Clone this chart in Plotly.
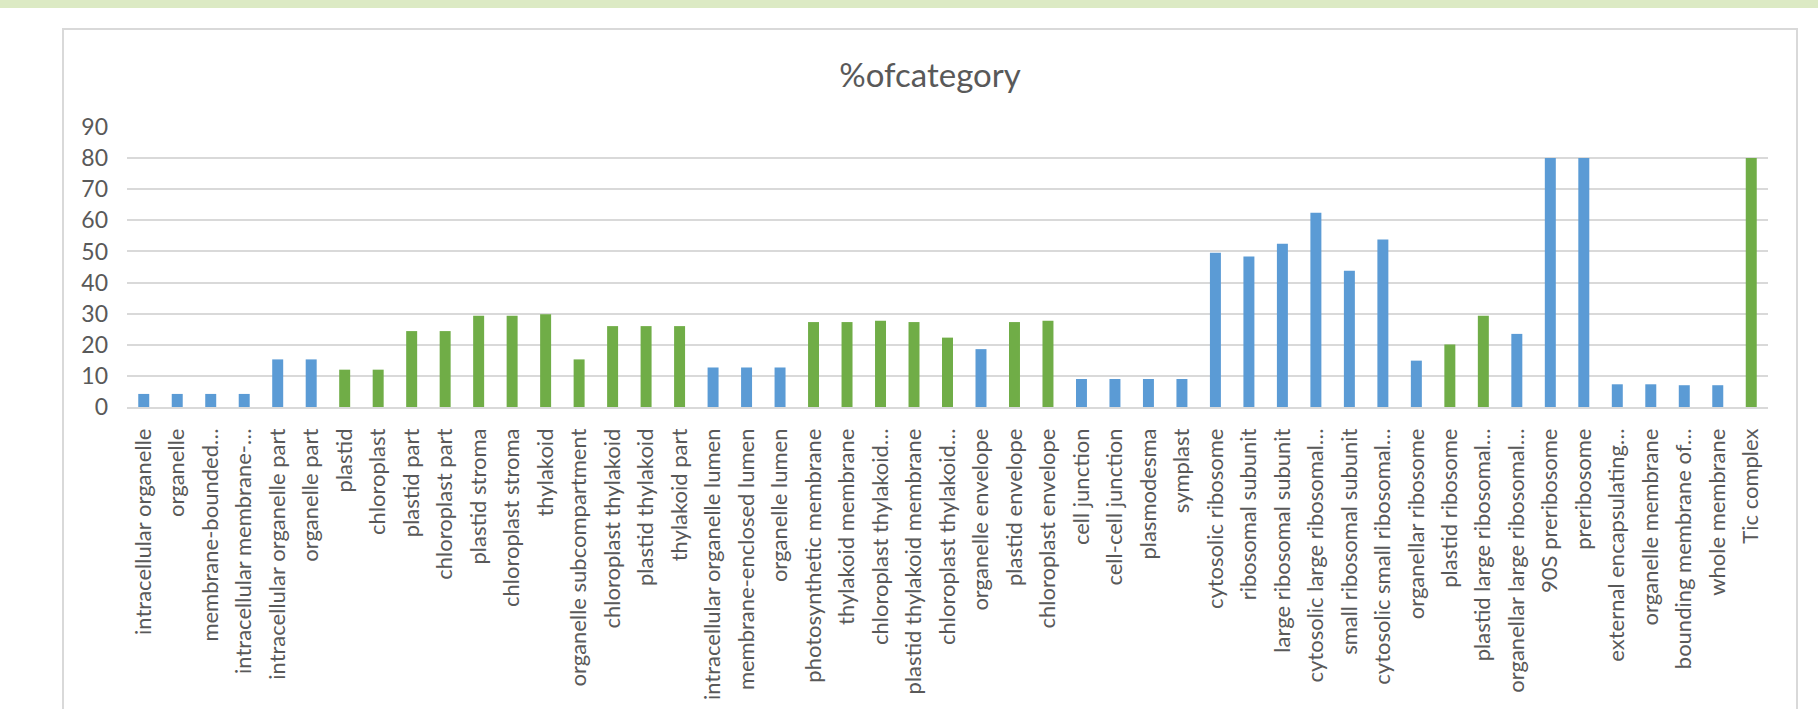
import plotly.graph_objects as go

# Cellular component categories and their share (%)
categories = [
    "intracellular organelle", "organelle", "membrane-bounded…", "intracellular membrane-…",
    "intracellular organelle part", "organelle part", "plastid", "chloroplast",
    "plastid part", "chloroplast part", "plastid stroma", "chloroplast stroma",
    "thylakoid", "organelle subcompartment", "chloroplast thylakoid", "plastid thylakoid",
    "thylakoid part", "intracellular organelle lumen", "membrane-enclosed lumen", "organelle lumen",
    "photosynthetic membrane", "thylakoid membrane", "chloroplast thylakoid…", "plastid thylakoid membrane",
    "chloroplast thylakoid…", "organelle envelope", "plastid envelope", "chloroplast envelope",
    "cell junction", "cell-cell junction", "plasmodesma", "symplast",
    "cytosolic ribosome", "ribosomal subunit", "large ribosomal subunit", "cytosolic large ribosomal…",
    "small ribosomal subunit", "cytosolic small ribosomal…", "organellar ribosome", "plastid ribosome",
    "plastid large ribosomal…", "organellar large ribosomal…", "90S preribosome", "preribosome",
    "external encapsulating…", "organelle membrane", "bounding membrane of…", "whole membrane",
    "Tic complex",
]

pct_of_category = [
    4.2, 4.2, 4.2, 4.2,
    15.3, 15.3, 12.0, 12.0,
    24.4, 24.4, 29.3, 29.3,
    29.8, 15.3, 26.0, 26.0,
    26.0, 12.7, 12.7, 12.7,
    27.3, 27.3, 27.7, 27.3,
    22.3, 18.6, 27.3, 27.7,
    9.0, 9.0, 9.0, 9.0,
    49.6, 48.4, 52.5, 62.4,
    43.8, 53.8, 14.9, 20.1,
    29.3, 23.5, 80.0, 80.0,
    7.3, 7.3, 7.0, 7.0,
    80.0,
]

# "P" = plastid-related category, "O" = other
group = [
    "O", "O", "O", "O", "O", "O", "P", "P", "P", "P", "P", "P", "P", "P", "P", "P", "P",
    "O", "O", "O", "P", "P", "P", "P", "P", "O", "P", "P",
    "O", "O", "O", "O", "O", "O", "O", "O", "O", "O", "O", "P", "P", "O", "O", "O",
    "O", "O", "O", "O", "P",
]

y_ticks = [0, 10, 20, 30, 40, 50, 60, 70, 80, 90]

palette = {"O": "#5B9BD5", "P": "#70AD47"}
bar_colors = [palette[g] for g in group]

TEXT = "#595959"
GRID = "#D9D9D9"
FONT = "Lato"

fig = go.Figure(
    go.Bar(
        x=list(range(len(categories))),
        y=pct_of_category,
        marker=dict(color=bar_colors, line=dict(width=0)),
        hoverinfo="skip",
    )
)

W, H = 1818, 709
ml, mr, mt, mb = 127, 50, 127, 302

fig.update_layout(
    width=W,
    height=H,
    margin=dict(l=ml, r=mr, t=mt, b=mb, autoexpand=False),
    paper_bgcolor="white",
    plot_bgcolor="white",
    bargap=0.672,
    showlegend=False,
    font=dict(family=FONT, color=TEXT),
    title=dict(
        text="%ofcategory",
        font=dict(family=FONT, size=33, color=TEXT),
        xref="container", x=930 / W, xanchor="center",
        yref="container", y=1 - 75 / H, yanchor="middle",
    ),
)

fig.update_xaxes(
    tickmode="array",
    tickvals=list(range(len(categories))),
    ticktext=categories,
    tickangle=-90,
    tickfont=dict(family=FONT, size=22, color=TEXT),
    range=[-0.5, len(categories) - 0.5],
    showline=True, linecolor=GRID, linewidth=1.5,
    showgrid=False, zeroline=False,
    ticks="", ticklabelstandoff=11,
    automargin=False, fixedrange=True,
)

fig.update_yaxes(
    range=[0, 90],
    tickmode="array",
    tickvals=y_ticks,
    tickfont=dict(family=FONT, size=23, color=TEXT),
    showgrid=True, gridcolor=GRID, gridwidth=1.5,
    zeroline=False, showline=False,
    ticks="", ticklabelstandoff=18,
    automargin=False, fixedrange=True,
)

# Pixel -> paper coordinate helpers for the frame decorations
pw, ph = W - ml - mr, H - mt - mb


def px_x(px):
    return (px - ml) / pw


def px_y(py):
    return (H - mb - py) / ph


fig.add_shape(
    type="rect", xref="paper", yref="paper", layer="below",
    x0=px_x(-10), x1=px_x(W + 10), y0=px_y(8), y1=px_y(-10),
    fillcolor="#DCEAC4", line=dict(width=0),
)
fig.add_shape(
    type="rect", xref="paper", yref="paper", layer="below",
    x0=px_x(63), x1=px_x(1797), y0=px_y(760), y1=px_y(29),
    fillcolor="rgba(0,0,0,0)", line=dict(color=GRID, width=2),
)

fig.write_html("out.html", config={"displayModeBar": False})
